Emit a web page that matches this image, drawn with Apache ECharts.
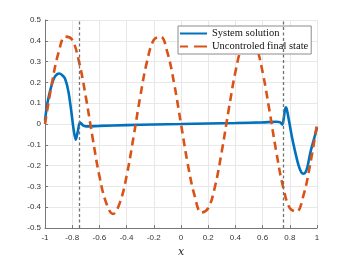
<!DOCTYPE html>
<html>
<head>
<meta charset="utf-8">
<script src="https://cdn.jsdelivr.net/npm/echarts@6/dist/echarts.min.js"></script>
<style>html,body{margin:0;padding:0;background:#fff;}#c{width:350px;height:263px;}</style>
</head>
<body>
<div id="c"></div>
<script>
var xTicks = [-1, -0.8, -0.6, -0.4, -0.2, 0, 0.2, 0.4, 0.6, 0.8, 1];
var yTicks = [-0.5, -0.4, -0.3, -0.2, -0.1, 0, 0.1, 0.2, 0.3, 0.4, 0.5];
var switchLines = [-0.75, 0.75];

var solX = [-1, -0.985, -0.97, -0.95, -0.93, -0.91, -0.895, -0.875, -0.853, -0.828, -0.804, -0.792, -0.774, -0.76, -0.743, -0.73, -0.718, -0.7,
  -0.6, -0.4, -0.2, 0, 0.2, 0.4, 0.6, 0.7, 0.73, 0.745, 0.755, 0.765, 0.772, 0.78, 0.79, 0.80, 0.815, 0.84, 0.865, 0.885, 0.90, 0.915, 0.93, 0.95, 0.97, 0.985, 1.0];
var solY = [0.016, 0.09, 0.14, 0.19, 0.225, 0.24, 0.243, 0.236, 0.219, 0.157, 0.047, -0.015, -0.075, -0.039, 0.008, 0.0, -0.008, -0.011,
  -0.009, -0.005, -0.002, 0.0, 0.003, 0.005, 0.008, 0.011, 0.008, -0.003, 0.025, 0.07, 0.08, 0.065, 0.03, -0.005, -0.06, -0.135, -0.2, -0.232, -0.239, -0.232, -0.205, -0.14, -0.09, -0.055, -0.016];

var uncX = [-1, -0.95, -0.9, -0.85, -0.8, -0.75, -0.7, -0.65, -0.6, -0.55, -0.5, -0.45, -0.4, -0.35, -0.3, -0.25, -0.2, -0.15, -0.1, -0.05,
  0, 0.05, 0.1, 0.15, 0.2, 0.25, 0.3, 0.35, 0.4, 0.45, 0.5, 0.55, 0.6, 0.65, 0.7, 0.75, 0.8, 0.85, 0.9, 0.95, 1];
var uncY = [0, 0.193, 0.344, 0.42, 0.404, 0.3, 0.131, -0.066, -0.25, -0.379, -0.432, -0.379, -0.25, -0.066, 0.131, 0.3, 0.404, 0.42, 0.344, 0.193,
  0, -0.193, -0.344, -0.425, -0.404, -0.3, -0.131, 0.066, 0.25, 0.379, 0.43, 0.379, 0.25, 0.066, -0.131, -0.3, -0.404, -0.42, -0.344, -0.193, 0];

function pairs(xs, ys) { var r = []; for (var i = 0; i < xs.length; i++) r.push([xs[i], ys[i]]); return r; }

var chart = echarts.init(document.getElementById('c'), null, {renderer: 'canvas'});
var labelFont = {color: '#333', fontSize: 8, fontFamily: 'Liberation Sans, Arial, sans-serif'};
chart.setOption({
  animation: false,
  backgroundColor: '#fff',
  grid: {left: 45, right: 33, top: 20, bottom: 30, containLabel: false},
  xAxis: {
    type: 'value', min: xTicks[0], max: xTicks[xTicks.length - 1], interval: 0.2,
    name: 'x', nameLocation: 'middle', nameGap: 17,
    nameTextStyle: {fontFamily: 'DejaVu Serif, Liberation Serif, serif', fontStyle: 'italic', fontSize: 11, color: '#262626'},
    axisLine: {show: true, onZero: false, lineStyle: {color: '#777', width: 1}},
    axisTick: {show: true, inside: true, length: 3, lineStyle: {color: '#777'}},
    axisLabel: Object.assign({margin: 6}, labelFont),
    splitLine: {show: true, lineStyle: {color: '#e8e8e8', width: 1}}
  },
  yAxis: {
    type: 'value', min: yTicks[0], max: yTicks[yTicks.length - 1], interval: 0.1,
    axisLine: {show: true, onZero: false, lineStyle: {color: '#777', width: 1}},
    axisTick: {show: true, inside: true, length: 3, lineStyle: {color: '#777'}},
    axisLabel: Object.assign({margin: 4}, labelFont),
    splitLine: {show: true, lineStyle: {color: '#e8e8e8', width: 1}}
  },
  legend: {
    orient: 'vertical', left: 178, top: 26,
    backgroundColor: '#fff', borderColor: '#8c8c8c', borderWidth: 1,
    padding: [2, 3, 2, 2], itemGap: 2, itemWidth: 27, itemHeight: 10,
    textStyle: {fontFamily: 'Liberation Serif, Times New Roman, serif', fontSize: 10.5, color: '#111'},
    data: [
      {name: 'System solution', icon: 'path://M0,4 L27,4 L27,6 L0,6 Z', itemStyle: {color: '#0072BD'}},
      {name: 'Uncontroled final state', icon: 'path://M0,4 L8,4 L8,6 L0,6 Z M14,4 L27,4 L27,6 L14,6 Z', itemStyle: {color: '#D95319'}}
    ]
  },
  series: [
    {
      name: 'System solution', type: 'line', data: pairs(solX, solY), showSymbol: false, symbol: 'none',
      smooth: 0.3, lineStyle: {color: '#0072BD', width: 2.6}, itemStyle: {color: '#0072BD'}, z: 2
    },
    {
      name: 'Uncontroled final state', type: 'line', data: pairs(uncX, uncY), showSymbol: false, symbol: 'none',
      smooth: 0.4, lineStyle: {color: '#D95319', width: 2.6, type: [8, 5]}, itemStyle: {color: '#D95319'}, z: 3,
      markLine: {
        silent: true, symbol: ['none', 'none'], label: {show: false},
        lineStyle: {color: '#707070', width: 1.3, type: [3, 2.5]},
        data: switchLines.map(function (v) { return {xAxis: v}; })
      }
    }
  ]
});
</script>
</body>
</html>
